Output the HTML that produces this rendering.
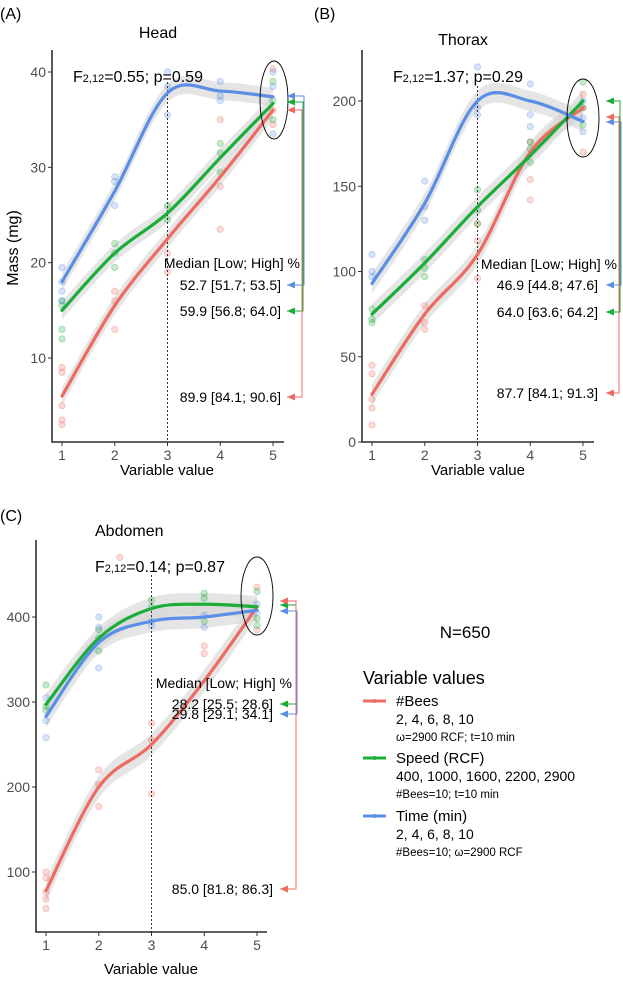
<!DOCTYPE html>
<html><head><meta charset="utf-8">
<style>
html,body{margin:0;padding:0;background:#fff;}
svg{display:block;font-family:"Liberation Sans","DejaVu Sans",sans-serif;}
</style></head>
<body>
<svg id="chart" width="623" height="981" viewBox="0 0 623 981" xmlns="http://www.w3.org/2000/svg"></svg>
<script>
// ---------- data ----------
const xCategories = [1, 2, 3, 4, 5];
// Head (mg)
const headBees  = [6, 15.5, 22.5, 29, 36];
const headSpeed = [15, 21, 25.2, 31, 36.7];
const headTime  = [18, 27.5, 37.8, 38, 37.4];
const headTicks = [10, 20, 30, 40];
// Thorax
const thoraxBees  = [28, 75, 110, 170, 196];
const thoraxSpeed = [75, 105, 138, 168, 200];
const thoraxTime  = [93, 140, 200, 200, 188];
const thoraxTicks = [0, 50, 100, 150, 200];
// Abdomen
const abdBees  = [78, 200, 250, 325, 412];
const abdSpeed = [297, 375, 410, 415, 412];
const abdTime  = [283, 370, 395, 400, 408];
const abdTicks = [100, 200, 300, 400];
// scatter points (x index, value)
const headPts = {
  bees: [[1,9],[1,8.5],[1,5],[1,3.5],[1,3],[2,17],[2,13],[2,16],[3,21],[3,19],[4,35],[4,28],[4,23.5],[5,40.3],[5,34.5],[5,36]],
  speed:[[1,16],[1,13],[1,12],[1,15.5],[2,22],[2,21],[2,19.5],[3,26],[3,24.5],[4,32.5],[4,29.5],[4,31.5],[5,39],[5,35],[5,37]],
  time: [[1,19.5],[1,18],[1,17],[1,16],[2,29],[2,28.5],[2,26],[3,40],[3,35.5],[3,38.5],[4,39],[4,37.5],[4,37],[5,40],[5,38.5],[5,33.5]]
};
const thoraxPts = {
  bees: [[1,45],[1,40],[1,25],[1,20],[1,10],[2,80],[2,70],[2,66],[3,118],[3,128],[3,96],[4,154],[4,142],[4,176],[5,204],[5,170],[5,196]],
  speed:[[1,78],[1,72],[1,70],[2,107],[2,102],[2,97],[3,148],[3,136],[3,128],[4,176],[4,172],[4,164],[5,211],[5,196],[5,186]],
  time: [[1,110],[1,100],[1,97],[2,153],[2,138],[2,130],[3,220],[3,196],[3,192],[4,210],[4,192],[4,185],[5,200],[5,190],[5,182]]
};
const abdPts = {
  bees: [[1,100],[1,93],[1,76],[1,68],[1,57],[2,220],[2,203],[2,177],[3,275],[3,255],[3,192],[4,366],[4,357],[5,435],[5,385],[2.4,470]],
  speed:[[1,320],[1,295],[1,290],[2,385],[2,375],[2,360],[3,420],[3,412],[4,428],[4,422],[4,395],[5,430],[5,398],[5,390]],
  time: [[1,305],[1,278],[1,258],[2,400],[2,388],[2,340],[3,395],[3,390],[4,402],[4,388],[5,415],[5,405]]
};
const medianHead   = ["52.7 [51.7; 53.5]","59.9 [56.8; 64.0]","89.9 [84.1; 90.6]"];
const medianThorax = ["46.9 [44.8; 47.6]","64.0 [63.6; 64.2]","87.7 [84.1; 91.3]"];
const medianAbd    = ["28.2 [25.5; 28.6]","29.8 [29.1; 34.1]","85.0 [81.8; 86.3]"];

const RED="#ee6b61", GREEN="#1aad38", BLUE="#5b8fe6";
const svg=document.getElementById('chart');
const NS="http://www.w3.org/2000/svg";
function mk(tag,attrs,parent){const e=document.createElementNS(NS,tag);for(const k in attrs)e.setAttribute(k,attrs[k]);(parent||svg).appendChild(e);return e;}
function txt(s,attrs,parent){const e=mk('text',attrs,parent);e.textContent=s;return e;}

function smooth(pts){
  let d=`M${pts[0][0]},${pts[0][1]}`;
  for(let i=0;i<pts.length-1;i++){
    const p0=pts[Math.max(i-1,0)],p1=pts[i],p2=pts[i+1],p3=pts[Math.min(i+2,pts.length-1)];
    const c1=[p1[0]+(p2[0]-p0[0])/6,p1[1]+(p2[1]-p0[1])/6];
    const c2=[p2[0]-(p3[0]-p1[0])/6,p2[1]-(p3[1]-p1[1])/6];
    d+=` C${c1[0]},${c1[1]} ${c2[0]},${c2[1]} ${p2[0]},${p2[1]}`;
  }
  return d;
}

function panel(c){
  const g=mk('g',{});  
  const xs=v=>c.x1+(v-1)*(c.x5-c.x1)/4;
  const ys=v=>c.yA+(v-c.vA)*(c.yB-c.yA)/(c.vB-c.vA);
  const series=[[c.bees,RED,'bees',c.pts.bees],[c.speed,GREEN,'speed',c.pts.speed],[c.time,BLUE,'time',c.pts.time]];
  series.forEach(([vals,col,nm])=>{
    const up=vals.map((v,i)=>[xs(xCategories[i]),ys(v)-c.band]);
    const dn=vals.map((v,i)=>[xs(xCategories[i]),ys(v)+c.band]).reverse();
    const d=smooth(up)+' L'+smooth(dn).slice(1)+' Z';
    const r=mk('path',{d:d,fill:'#d4d4d4','fill-opacity':0.6,stroke:'none'},g);
     
  });
  series.forEach(([vals,col,nm,pts])=>{
    pts.forEach(p=>{
      const e=mk('circle',{cx:xs(p[0]),cy:ys(p[1]),r:3.2,fill:col,'fill-opacity':0.25,stroke:col,'stroke-opacity':0.35,'stroke-width':0.8},g);
       
    });
  });
  const dl=mk('line',{x1:xs(3),x2:xs(3),y1:c.dashTop,y2:c.axisY,stroke:'#333','stroke-dasharray':'2,2','stroke-width':1},g);
   
  series.forEach(([vals,col,nm])=>{
    const p=vals.map((v,i)=>[xs(xCategories[i]),ys(v)]);
    const e=mk('path',{d:smooth(p),fill:'none',stroke:col,'stroke-width':3.2,'stroke-linecap':'round'},g);
     
  });
  const ax=mk('path',{d:`M${c.axisX},${c.axisTop} V${c.axisY} H${c.axisRight}`,fill:'none',stroke:'#000','stroke-width':1.3},g);
   
  xCategories.forEach(v=>{
    mk('line',{x1:xs(v),x2:xs(v),y1:c.axisY,y2:c.axisY+4,stroke:'#333'},g);
    const t=txt(v,{x:xs(v),y:c.axisY+18,'font-size':14,fill:'#4d4d4d','text-anchor':'middle'},g);
     
  });
  c.ticks.forEach(v=>{
    mk('line',{x1:c.axisX-4,x2:c.axisX,y1:ys(v),y2:ys(v),stroke:'#333'},g);
    const t=txt(v,{x:c.axisX-6,y:ys(v)+5,'font-size':14,fill:'#4d4d4d','text-anchor':'end'},g);
     
  });
  const xl=txt('Variable value',{x:c.xlabX,y:c.xlabY,'font-size':15,'text-anchor':'middle'},g);
   
  const tt=txt(c.title,{x:c.titleX,y:c.titleY,'font-size':16,'text-anchor':c.titleAnchor},g);
   
  const lb=txt(c.label,{x:c.labelX,y:c.labelY,'font-size':16},g);
   
  const f=mk('text',{x:c.fX,y:c.fY,'font-size':16},g);
   
  f.innerHTML='F<tspan font-size="11">2,12</tspan><tspan>'+c.fText+'</tspan>';
  const el=mk('ellipse',{cx:c.ell[0],cy:c.ell[1],rx:c.ell[2],ry:c.ell[3],fill:'none',stroke:'#000','stroke-width':0.9},g);
   
  const mh=txt('Median [Low; High] %',{x:c.medRight+19,y:c.medHeadY,'font-size':14,'text-anchor':'end'},g);
   
  c.arrows.forEach(a=>{
    const t=txt(a.text,{x:c.medRight,y:a.low+5,'font-size':14,'text-anchor':'end'},g);
     
    const p=mk('path',{d:`M${c.tip},${a.top} H${a.bx} V${a.low} H${c.tip}`,fill:'none',stroke:a.col,'stroke-width':1},g);
     
    [a.top,a.low].forEach(yy=>{
      mk('path',{d:`M${c.tip},${yy} l8,-3.5 v7 z`,fill:a.col},g);
    });
  });
}

panel({name:'head',label:'(A)',labelX:0,labelY:19,title:'Head',titleX:158,titleY:38,titleAnchor:'middle',
  x1:62,x5:273,yA:358,vA:10,yB:72,vB:40,axisX:52,axisY:442,axisTop:50,axisRight:284,
  bees:headBees,speed:headSpeed,time:headTime,ticks:headTicks,pts:headPts,band:9,dashTop:82,
  xlabX:167,xlabY:475,fX:73,fY:82,fText:'=0.55; p=0.59',ell:[274,100,14,39],
  medRight:281,medHeadY:268,tip:287,
  arrows:[{nm:'time',col:BLUE,top:96,low:285,bx:304,text:medianHead[0]},
          {nm:'speed',col:GREEN,top:102,low:311,bx:303,text:medianHead[1]},
          {nm:'bees',col:RED,top:110,low:397,bx:302,text:medianHead[2]}]});
panel({name:'thorax',label:'(B)',labelX:314,labelY:19,title:'Thorax',titleX:463,titleY:45,titleAnchor:'middle',
  x1:372,x5:583,yA:442,vA:0,yB:101,vB:200,axisX:362,axisY:442,axisTop:50,axisRight:594,
  bees:thoraxBees,speed:thoraxSpeed,time:thoraxTime,ticks:thoraxTicks,pts:thoraxPts,band:10,dashTop:86,
  xlabX:478,xlabY:475,fX:393,fY:82,fText:'=1.37; p=0.29',ell:[583,118,16,39],
  medRight:598,medHeadY:269,tip:606,
  arrows:[{nm:'time',col:BLUE,top:122,low:285,bx:621,text:medianThorax[0]},
          {nm:'speed',col:GREEN,top:101,low:312,bx:620,text:medianThorax[1]},
          {nm:'bees',col:RED,top:117,low:393,bx:619,text:medianThorax[2]}]});
panel({name:'abdomen',label:'(C)',labelX:0,labelY:521,title:'Abdomen',titleX:95,titleY:536,titleAnchor:'start',
  x1:46,x5:257,yA:872,vA:100,yB:617,vB:400,axisX:36,axisY:932,axisTop:540,axisRight:267,
  bees:abdBees,speed:abdSpeed,time:abdTime,ticks:abdTicks,pts:abdPts,band:11,dashTop:575,
  xlabX:151,xlabY:974,fX:95,fY:572,fText:'=0.14; p=0.87',ell:[257,596,16,39],
  medRight:273,medHeadY:688,tip:280,
  arrows:[{nm:'speed',col:GREEN,top:605,low:704,bx:296,text:medianAbd[0]},
          {nm:'time',col:BLUE,top:611,low:714,bx:297,text:medianAbd[1]},
          {nm:'bees',col:RED,top:601,low:889,bx:296,text:medianAbd[2]}]});

const yl=txt('Mass (mg)',{x:0,y:0,'font-size':16,'text-anchor':'middle',transform:'translate(18,248) rotate(-90)'});



const n=txt('N=650',{x:465,y:638,'font-size':17,'text-anchor':'middle'});


const lt=txt('Variable values',{x:363,y:684,'font-size':18});


const legNames=['#Bees','Speed (RCF)','Time (min)'];
const legVals=['2, 4, 6, 8, 10','400, 1000, 1600, 2200, 2900','2, 4, 6, 8, 10'];
const legCond=['ω=2900 RCF; t=10 min','#Bees=10; t=10 min','#Bees=10; ω=2900 RCF'];
const legCols=[RED,GREEN,BLUE];
[701,758,816].forEach((y,i)=>{
  const l=mk('line',{x1:363,x2:386,y1:y,y2:y,stroke:legCols[i],'stroke-width':3});
  
  
  mk('circle',{cx:374.5,cy:y,r:2,fill:legCols[i]});
  const a=txt(legNames[i],{x:396,y:y+5,'font-size':15});
  
  
  const b=txt(legVals[i],{x:396,y:y+23,'font-size':14});
  
  
  const d=txt(legCond[i],{x:396,y:y+40,'font-size':11.5});
  
  
});
</script>
</body></html>
